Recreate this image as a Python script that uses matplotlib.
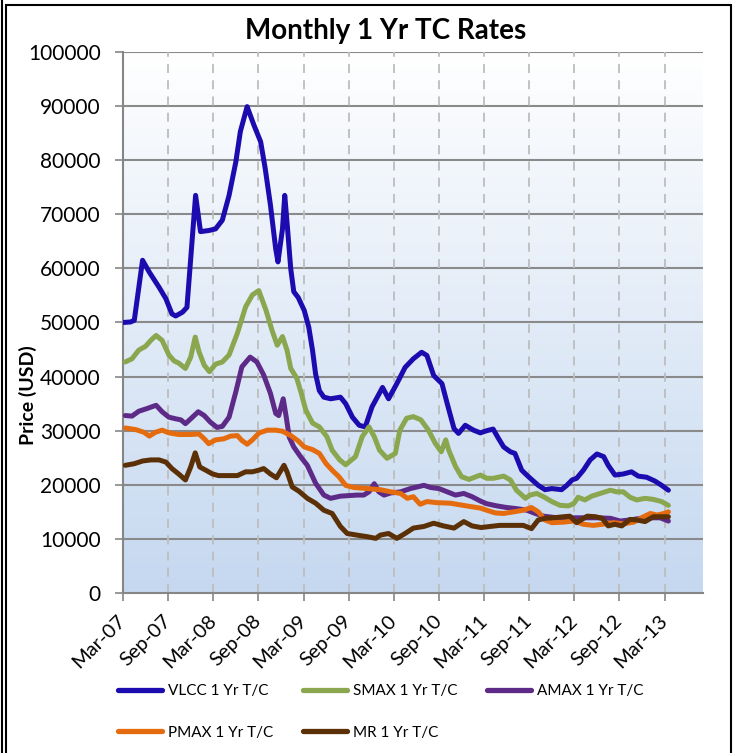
import numpy as np
import matplotlib.pyplot as plt
from matplotlib.colors import LinearSegmentedColormap
from matplotlib.patches import Rectangle
from matplotlib.lines import Line2D

plt.rcParams['font.family'] = ['Lato', 'DejaVu Sans']

# months since Mar-07 and 1 yr T/C rates (USD/day)
vlcc_m = [0, 1.0, 1.5, 2.6, 3.5, 4.8, 5.7, 6.5, 7.0, 7.9, 8.5, 9.65, 10.3, 11.4, 12.3, 13.2, 14.1, 15.0, 15.6,
          16.5, 17.4, 18.3, 18.9, 19.6, 20.3, 20.6, 21.2, 21.5, 21.8, 22.3, 22.7, 23.3, 24.1, 24.7, 25.2, 25.6,
          26.1, 26.7, 27.6, 28.9, 29.6, 30.5, 31.4, 32.2, 33.1, 34.5, 35.3, 36.4, 37.5, 38.6, 39.7, 40.4, 41.3,
          42.4, 43.1, 44.0, 44.6, 45.5, 46.6, 47.5, 48.35, 49.2, 49.9, 50.6, 51.5, 52.1, 53.0, 53.9, 55.2, 56.1,
          57.0, 58.3, 59.0, 59.7, 60.3, 61.2, 62.1, 63.0, 63.9, 64.5, 65.4, 66.5, 67.6, 68.5, 69.6, 70.7, 71.6, 72.5]
vlcc_v = [50000, 50100, 50400, 61500, 59300, 56500, 54400, 51600, 51200, 51900, 52800, 73500, 66800, 67000,
          67300, 68900, 73500, 79700, 85300, 89900, 86500, 83400, 78500, 71700, 63600, 61200, 67300, 73500,
          68600, 59900, 55700, 54600, 52200, 49100, 44800, 40500, 37400, 36200, 35900, 36200, 35000, 32500,
          31000, 30700, 34400, 38000, 35900, 38700, 41700, 43300, 44500, 43900, 40200, 38700, 35000, 30400,
          29500, 31000, 30100, 29600, 30000, 30300, 28600, 27000, 26100, 25800, 22700, 21500, 19900, 19100,
          19300, 19100, 19900, 20900, 21200, 22700, 24600, 25700, 25200, 23600, 21800, 22000, 22400, 21600,
          21400, 20700, 19900, 19000]

smax_m = [0.3, 1.2, 2.1, 3.0, 3.7, 4.4, 5.2, 6.1, 6.8, 7.4, 8.3, 9.0, 9.6, 10.1, 10.8, 11.5, 12.3, 13.2, 14.1,
          15.2, 16.3, 17.2, 18.05, 19.0, 19.8, 20.5, 21.2, 21.8, 22.3, 23.1, 23.7, 24.3, 25.2, 26.1, 27.1, 27.8,
          28.8, 29.6, 30.9, 31.8, 32.7, 33.4, 34.1, 35.1, 36.2, 36.8, 37.7, 38.6, 39.6, 40.6, 41.5, 42.3, 42.9,
          43.3, 44.2, 45.0, 46.0, 47.5, 48.35, 49.2, 50.6, 51.5, 52.3, 53.5, 54.1, 55.0, 55.9, 57.0, 58.1, 59.2,
          59.9, 60.5, 61.4, 62.3, 63.2, 64.1, 64.8, 65.6, 66.5, 67.4, 68.3, 69.4, 70.5, 71.6, 72.5]
smax_v = [42700, 43300, 44900, 45600, 46700, 47600, 46700, 44000, 42900, 42500, 41500, 43600, 47300, 44600,
          42100, 40900, 42300, 42700, 44000, 48000, 52900, 55100, 55900, 52300, 48600, 45800, 47400, 44900,
          41500, 39700, 36900, 33800, 31400, 30700, 28900, 26400, 24600, 23700, 25200, 28900, 30700, 28900,
          26400, 24900, 25800, 30100, 32300, 32600, 32000, 30100, 27700, 26100, 28300, 26400, 23400, 21500,
          21000, 21800, 21200, 21200, 21600, 20900, 19000, 17500, 18100, 18400, 17800, 16900, 16200, 16100,
          16500, 17700, 17200, 17900, 18300, 18700, 19000, 18700, 18700, 17700, 17200, 17500, 17300, 16900, 16200]

amax_m = [0.3, 1.2, 2.1, 3.2, 4.4, 5.2, 6.1, 7.0, 7.7, 8.3, 9.0, 10.0, 10.8, 11.6, 12.5, 13.2, 14.1, 15.0, 15.8,
          16.9, 17.8, 18.7, 19.6, 20.3, 20.7, 21.3, 21.7, 22.1, 22.7, 23.6, 24.5, 25.6, 26.7, 27.6, 28.9, 31.1,
          32.0, 32.7, 33.4, 34.0, 34.7, 35.6, 36.9, 38.2, 40.0, 40.9, 42.0, 43.1, 44.2, 45.3, 46.4, 47.5, 48.35,
          49.7, 51.0, 52.3, 53.7, 54.8, 55.9, 57.7, 59.4, 61.2, 63.0, 64.8, 66.1, 67.4, 68.8, 70.1, 71.4, 72.5]
amax_v = [32800, 32700, 33600, 34100, 34700, 33500, 32500, 32200, 32000, 31300, 32200, 33500, 32800, 31600,
          30600, 30800, 32500, 37200, 41800, 43600, 42700, 40300, 36900, 33200, 32800, 35900, 32500, 28800,
          27000, 25200, 23600, 20300, 18100, 17500, 17900, 18100, 18100, 18700, 20200, 18700, 18100, 18500,
          18700, 19300, 19900, 19500, 19300, 18700, 18100, 18400, 17800, 17000, 16500, 16100, 15800, 15600,
          15300, 14700, 14200, 13900, 13900, 13900, 13900, 13800, 13300, 13500, 13800, 13900, 13900, 13300]

pmax_m = [0.3, 1.7, 2.8, 3.5, 4.3, 5.2, 6.1, 7.4, 9.0, 10.1, 10.8, 11.4, 12.3, 13.4, 14.3, 15.2, 15.8, 16.5, 17.2,
          18.1, 19.2, 20.3, 21.2, 22.3, 23.3, 24.1, 25.2, 26.1, 27.0, 27.8, 28.7, 29.6, 30.7, 32.5, 34.2, 35.6,
          36.9, 37.8, 38.6, 39.5, 40.4, 41.7, 43.5, 44.8, 46.1, 47.5, 48.35, 49.5, 50.6, 51.9, 53.2, 54.3, 55.2,
          56.1, 57.0, 58.6, 59.9, 61.2, 62.5, 63.7, 65.2, 66.5, 67.9, 69.2, 70.1, 71.0, 71.9, 72.5]
pmax_v = [30500, 30200, 29700, 29000, 29700, 30100, 29600, 29300, 29300, 29400, 28500, 27600, 28300, 28500,
          29000, 29100, 28200, 27500, 28300, 29600, 30100, 30100, 29900, 29100, 28100, 27000, 26500, 25800,
          23900, 22700, 21500, 19900, 19500, 19300, 19100, 18700, 18400, 17500, 17800, 16400, 16900, 16700,
          16600, 16300, 16000, 15700, 15300, 14800, 14700, 15000, 15300, 15800, 15000, 13500, 13000, 13100,
          13300, 12700, 12500, 12700, 13000, 12800, 13100, 14100, 14700, 14400, 14700, 15000]

mr_m = [0.3, 1.5, 2.6, 3.7, 4.8, 5.7, 6.5, 7.4, 8.3, 9.0, 9.6, 10.2, 11.0, 11.9, 12.7, 14.1, 15.2, 16.3, 17.2,
        18.05, 18.7, 19.6, 20.4, 21.4, 21.8, 22.5, 23.4, 24.5, 25.6, 26.7, 27.8, 28.9, 29.8, 31.1, 32.5, 33.6,
        34.2, 35.3, 36.4, 37.5, 38.6, 40.0, 41.3, 42.6, 44.0, 45.3, 46.4, 47.6, 48.8, 50.1, 51.5, 53.2, 54.3,
        55.2, 56.1, 57.2, 58.6, 59.4, 60.3, 61.7, 62.8, 63.7, 64.5, 65.4, 66.3, 67.4, 68.3, 69.4, 70.5, 71.6, 72.5]
mr_v = [23600, 23900, 24400, 24600, 24600, 24200, 23000, 22000, 20900, 23300, 25900, 23300, 22700, 22000,
        21700, 21700, 21700, 22400, 22400, 22700, 23000, 22000, 21300, 23600, 22400, 19600, 18800, 17500,
        16600, 15300, 14700, 12300, 11000, 10700, 10400, 10100, 10700, 11000, 10100, 11000, 12000, 12300,
        12900, 12400, 12000, 13200, 12400, 12100, 12300, 12500, 12500, 12500, 11900, 13500, 13800, 13900,
        14100, 14200, 13000, 14200, 14100, 13800, 12400, 12700, 12400, 13600, 13500, 13200, 14100, 14100, 14100]

tick_m = list(range(0, 73, 6))
tick_labels = ['Mar-07', 'Sep-07', 'Mar-08', 'Sep-08', 'Mar-09', 'Sep-09', 'Mar-10',
               'Sep-10', 'Mar-11', 'Sep-11', 'Mar-12', 'Sep-12', 'Mar-13']

W, H = 739, 753
fig = plt.figure(figsize=(W / 100, H / 100), dpi=100)
ax = fig.add_axes([123 / W, 1 - 593 / H, (703 - 123) / W, (593 - 52) / H])

# background gradient, white at top to light blue at bottom
cmap = LinearSegmentedColormap.from_list('bg', ['#C5D8F0', '#FFFFFF'])
grad = np.linspace(0, 1, 256).reshape(-1, 1)
ax.imshow(grad, extent=[0, 1, 0, 1], transform=ax.transAxes, cmap=cmap,
          aspect='auto', origin='lower', zorder=0)

series = [
    ('VLCC 1 Yr T/C', vlcc_m, vlcc_v, '#1C0CB0'),
    ('SMAX 1 Yr T/C', smax_m, smax_v, '#8AA64E'),
    ('AMAX 1 Yr T/C', amax_m, amax_v, '#5E2A88'),
    ('PMAX 1 Yr T/C', pmax_m, pmax_v, '#E56C0E'),
    ('MR 1 Yr T/C', mr_m, mr_v, '#5C3006'),
]
for name, xm, yv, c in series:
    ax.plot(xm, yv, color=c, lw=3.6, solid_joinstyle='round', solid_capstyle='round',
            label=name, zorder=3)

ax.set_xlim(0, 77.1)
ax.set_ylim(0, 100000)
ax.set_yticks(range(0, 100001, 10000))
ax.set_xticks(tick_m)
ax.set_xticklabels(tick_labels, rotation=45, ha='right', va='center',
                   rotation_mode='anchor', fontsize=14.5)
ax.tick_params(axis='y', labelsize=15, length=6, width=1.2, color='#868686', pad=10)
ax.tick_params(axis='x', length=6, width=1.2, color='#868686', pad=12)

for y in range(10000, 100001, 10000):
    ax.axhline(y, color='#8A8A8A', lw=1.5, zorder=1)
for x in tick_m[1:]:
    ax.axvline(x, color='#BDBDBD', lw=1.3, ls=(0, (5, 4)), zorder=1)

for s in ['top', 'right']:
    ax.spines[s].set_visible(False)
for s in ['left', 'bottom']:
    ax.spines[s].set_color('#868686')
    ax.spines[s].set_linewidth(1.5)
    ax.spines[s].set_zorder(2)

ax.set_ylabel('Price (USD)', fontsize=14, fontweight='bold')
ax.yaxis.set_label_coords(-0.148, 0.365)

fig.text(386 / W, 1 - 31 / H, 'Monthly 1 Yr TC Rates', fontsize=20, fontweight='bold',
         ha='center', va='center')

# legend, row-wise order
handles = [Line2D([], [], color=c, lw=3.8, solid_capstyle='round') for _, _, _, c in series]
names = [s[0] for s in series]
order = [0, 3, 1, 4, 2]
fig.legend([handles[i] for i in order], [names[i] for i in order], ncol=3,
           loc='upper left', bbox_to_anchor=(118 / W, 1 - 684 / H), frameon=False,
           fontsize=11, handlelength=2.9, handletextpad=0.4, columnspacing=1.9,
           labelspacing=1.8, borderpad=0, borderaxespad=0)

# chart frame
fig.add_artist(Rectangle((6 / W, -0.01), (731 - 6) / W, 1 - 5 / H + 0.01, transform=fig.transFigure,
                         fill=False, ec='black', lw=1.5))
fig.add_artist(Line2D([2 / W, 2 / W], [0, 1], transform=fig.transFigure, color='black', lw=1.5))

fig.savefig('out.png', dpi=100)
